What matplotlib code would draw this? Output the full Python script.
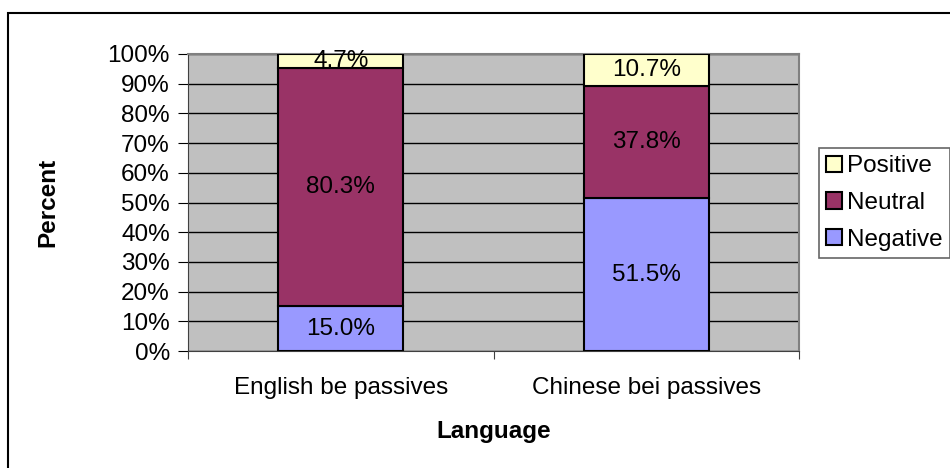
import numpy as np
import matplotlib.pyplot as plt
from matplotlib.patches import Rectangle

plt.rcParams['font.family'] = ['Liberation Sans', 'DejaVu Sans']

categories = ['English be passives', 'Chinese bei passives']
negative = [15.0, 51.5]
neutral = [80.3, 37.8]
positive = [4.7, 10.7]

series = [('Negative', negative, '#9999FF'),
          ('Neutral', neutral, '#993366'),
          ('Positive', positive, '#FFFFCC')]

FS = 17.5

fig = plt.figure(figsize=(9.5, 4.68), dpi=100)

# outer chart frame (only top/left visible in the original)
fig.add_artist(Rectangle((8 / 950, -0.1), 1.2, 1 - 13 / 468 + 0.1,
                         transform=fig.transFigure, fill=False,
                         edgecolor='black', linewidth=1.5))

ax = fig.add_axes([188 / 950, 1 - 351 / 468, 611 / 950, 297 / 468])
ax.set_facecolor('#C0C0C0')

x = np.arange(len(categories))
bottom = np.zeros(len(categories))
handles = {}
for name, vals, color in series:
    vals = np.array(vals)
    bars = ax.bar(x, vals, width=0.41, bottom=bottom, color=color,
                  edgecolor='black', linewidth=1.5, zorder=3)
    handles[name] = bars
    for xi, b, v in zip(x, bottom, vals):
        ax.text(xi, b + v / 2, f'{v:.1f}%', ha='center', va='center',
                fontsize=FS, zorder=4)
    bottom += vals

ax.set_xlim(-0.5, 1.5)
ax.set_ylim(0, 100)
ax.set_yticks(np.arange(0, 101, 10))
ax.set_yticklabels([f'{t}%' for t in range(0, 101, 10)], fontsize=FS)
ax.yaxis.grid(True, color='black', linewidth=1, zorder=1)
ax.set_axisbelow(True)

ax.set_xticks([-0.5, 0.5, 1.5])
ax.set_xticklabels([])
ax.set_xticks(x, minor=True)
ax.set_xticklabels(categories, minor=True, fontsize=FS)
ax.tick_params(axis='x', which='minor', length=0, pad=19)
ax.tick_params(axis='x', which='major', length=6, color='#404040', direction='out')
ax.tick_params(axis='y', length=7, color='black', direction='out', pad=6)

for s in ['top', 'right']:
    ax.spines[s].set_color('#808080')
    ax.spines[s].set_linewidth(1.5)
ax.spines['left'].set_color('#404040')
ax.spines['bottom'].set_color('#404040')

ax.set_ylabel('Percent', fontsize=FS, fontweight='bold', labelpad=35)
ax.set_xlabel('Language', fontsize=FS, fontweight='bold', labelpad=15)

leg = fig.legend([handles['Positive'], handles['Neutral'], handles['Negative']],
                 ['Positive', 'Neutral', 'Negative'],
                 loc='center left', bbox_to_anchor=(819 / 950, 1 - 203 / 468),
                 fontsize=FS, frameon=True, fancybox=False,
                 handlelength=0.65, handleheight=0.65, handletextpad=0.2,
                 borderpad=0.3, labelspacing=0.6, borderaxespad=0)
leg.get_frame().set_edgecolor('#404040')
leg.get_frame().set_linewidth(1.2)

fig.savefig('out.png', dpi=100)
